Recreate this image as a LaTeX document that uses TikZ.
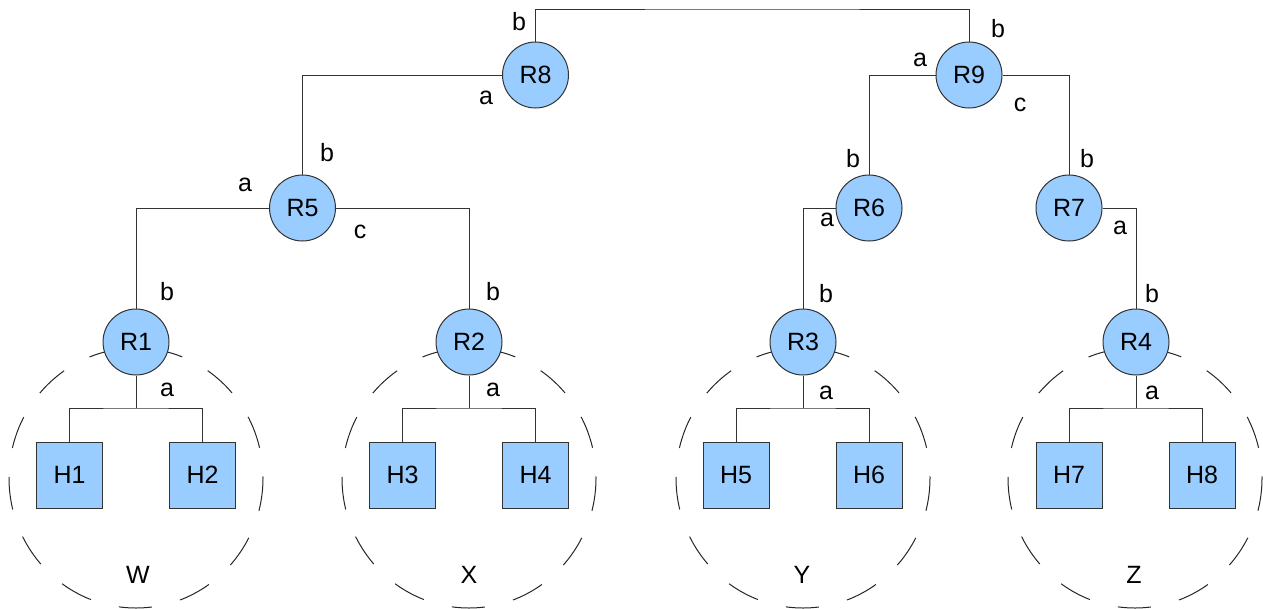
\documentclass[tikz,border=0pt]{standalone}
\usepackage{fontspec}
\setmainfont{Liberation Sans}
\begin{document}
\begin{tikzpicture}[x=1pt,y=-1pt,
    router/.style={circle,draw=black!80,fill=azul,minimum size=66pt,inner sep=0pt,line width=1pt},
    host/.style={rectangle,draw=black!80,fill=azul,minimum size=66pt,inner sep=0pt,line width=1pt},
    enlace/.style={draw=black!80,line width=1pt},
    etiq/.style={inner sep=0pt},
    zona/.style={draw=black!85,line width=1pt,dash pattern=on 33pt off 29pt}]
        %colores
        \definecolor{azul}{RGB}{153,204,255}
        \useasboundingbox (0,0) rectangle (1263,608);
        \tikzset{every node/.style={font=\fontsize{25}{30}\selectfont}}

        % zonas punteadas
        \foreach \x in {136,469,803,1135}
            \draw[zona] (\x,478) ellipse [x radius=127, y radius=130];

        % routers
        \node[router] (R8) at (535.5,75) {R8};
        \node[router] (R9) at (969,75) {R9};
        \node[router] (R5) at (302.5,208) {R5};
        \node[router] (R6) at (869,208) {R6};
        \node[router] (R7) at (1069,208) {R7};
        \foreach \n/\x in {1/136, 2/469, 3/803, 4/1136}
            \node[router] (R\n) at (\x,342) {R\n};

        % hosts
        \foreach \n/\x in {1/69.5, 2/202.5, 3/402.5, 4/535.5, 5/736, 6/869, 7/1069, 8/1202}
            \node[host] (H\n) at (\x,475) {H\n};

        % enlaces entre routers
        \coordinate (top) at (752,9);
        \draw[enlace] (R8.north) |- (top) -| (R9.north);
        \draw[enlace] (R8.west) -| (R5.north);
        \draw[enlace] (R9.west) -| (R6.north);
        \draw[enlace] (R9.east) -| (R7.north);
        \draw[enlace] (R5.west) -| (R1.north);
        \draw[enlace] (R5.east) -| (R2.north);
        \draw[enlace] (R6.west) -| (R3.north);
        \draw[enlace] (R7.east) -| (R4.north);

        % enlaces a los hosts
        \foreach \r/\a/\b in {R1/H1/H2, R2/H3/H4, R3/H5/H6, R4/H7/H8}{
            \path (\r) ++(0,66) coordinate (f\r);
            \draw[enlace] (\r.south) -- (f\r);
            \draw[enlace] (\a.north) |- (f\r) -| (\b.north);
        }

        % etiquetas de interfaz
        \foreach \n/\x/\y/\t in {8b/519/22/b, 8a/486/98/a, 9b/998/29/b, 9a/920/60/a, 9c/1020/105/c,
                5b/327/153/b, 5a/245/185/a, 5c/360/232/c, 6b/853/159/b, 6a/827/220/a,
                7b/1087/159/b, 7a/1120/228/a, 1b/167/292/b, 1a/167/390/a, 2b/493/292/b,
                2a/493/390/a, 3b/826/294/b, 3a/826/393/a, 4b/1152/294/b, 4a/1152/393/a}
            \node[etiq] (l\n) at (\x,\y) {\t};

        % nombres de zona
        \foreach \n/\x in {W/138, X/469, Y/802, Z/1134}
            \node[etiq] (z\n) at (\x,575) {\n};
    \end{tikzpicture}
\end{document}
